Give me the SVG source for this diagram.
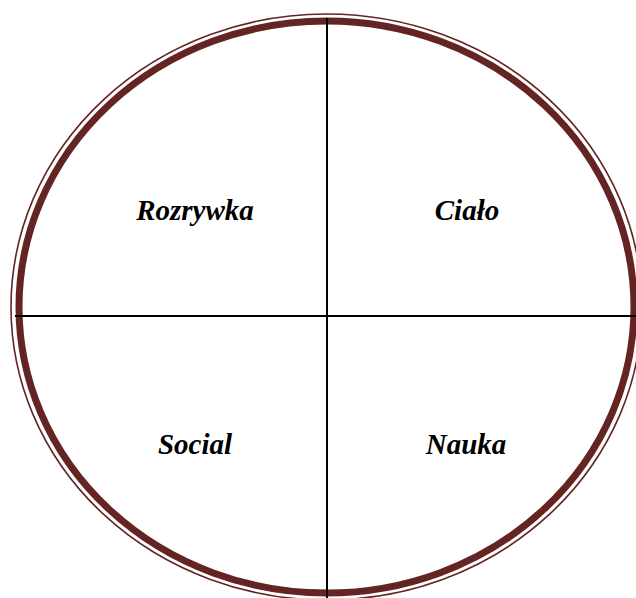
<svg xmlns="http://www.w3.org/2000/svg" width="636" height="598" viewBox="0 0 636 598">
<style>
.ring{fill:none;stroke:#632423}
.lbl{font-family:"Liberation Serif","Times New Roman",serif;font-weight:bold;font-style:italic;font-size:29px;fill:#000;text-anchor:middle}
.ln{stroke:#000;stroke-width:2}
</style>
<rect width="636" height="598" fill="#fff"/>
<g id="ring">
<ellipse class="ring" cx="326.5" cy="307" rx="315.5" ry="293" stroke-width="1.6"/>
<ellipse class="ring" cx="326.5" cy="307" rx="307.5" ry="286" stroke-width="7"/>
</g>
<g id="connectors">
<line class="ln" x1="15" y1="316" x2="636" y2="316"/>
<line class="ln" x1="327" y1="18" x2="327" y2="598"/>
</g>
<g id="rozrywka"><text class="lbl" x="195" y="220">Rozrywka</text></g>
<g id="cialo"><text class="lbl" x="467" y="220">Ciało</text></g>
<g id="social"><text class="lbl" x="195" y="454">Social</text></g>
<g id="nauka"><text class="lbl" x="466" y="454">Nauka</text></g>
</svg>
